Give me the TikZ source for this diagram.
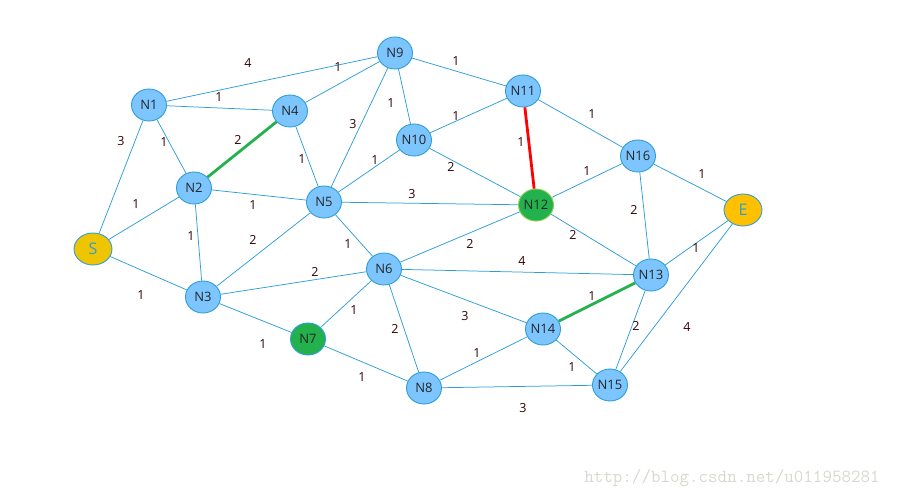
\documentclass[tikz,border=0pt]{standalone}
\usepackage{fontspec}
\setmainfont{Open Sans}
\usepackage{xcolor}
\usetikzlibrary{shapes.geometric}

\definecolor{nodeblue}{HTML}{7DC5FF}
\definecolor{edgeblue}{HTML}{2E9ED8}
\definecolor{pathgreen}{HTML}{22B14C}
\definecolor{startyellow}{HTML}{EFC400}
\definecolor{endyellow}{HTML}{FFC000}
\definecolor{lightgreen}{HTML}{8FD14F}
\definecolor{wmgray}{HTML}{D8D8D0}

\tikzset{
  vert/.style={ellipse, draw=edgeblue, fill=nodeblue, line width=0.9pt,
               minimum width=35pt, minimum height=32pt, inner sep=0pt,
               font=\fontsize{13}{15}\selectfont, text=black!85},
  goal/.style={vert, minimum width=38pt, minimum height=32pt,
               font=\fontsize{16}{18}\selectfont, text=edgeblue},
  wt/.style={font=\fontsize{12.5}{14}\selectfont, text=black!80!red},
  edge/.style={draw=edgeblue, line width=0.75pt},
  best/.style={line width=2.8pt}
}

\begin{document}
\begin{tikzpicture}[x=1pt, y=-1pt]
             \useasboundingbox (0,0) rectangle (897,498);

             % vertices
             \node[vert] (N1) at (149,105) {N1};
             \node[vert] (N2) at (194,188) {N2};
             \node[vert] (N3) at (203,297) {N3};
             \node[vert] (N4) at (290,111) {N4};
             \node[vert] (N5) at (324,202) {N5};
             \node[vert] (N6) at (384,269) {N6};
             \node[vert, fill=pathgreen] (N7) at (308,339) {N7};
             \node[vert] (N8) at (424,388) {N8};
             \node[vert] (N9) at (395,53) {N9};
             \node[vert] (N10) at (414,140) {N10};
             \node[vert] (N11) at (523,91) {N11};
             \node[vert, fill=pathgreen, draw=lightgreen] (N12) at (536,205) {N12};
             \node[vert] (N13) at (651,275) {N13};
             \node[vert] (N14) at (543,329) {N14};
             \node[vert] (N15) at (610,385) {N15};
             \node[vert] (N16) at (638,156) {N16};
             \node[goal, fill=startyellow] (S) at (93,249) {S};
             \node[goal, fill=endyellow] (E) at (743,210) {E};

             % edges with weights
             \draw[edge] (N1) -- (N9) node[wt] at (248,63) {4};
             \draw[edge] (N1) -- (N4) node[wt] at (219,97) {1};
             \draw[edge] (N1) -- (N2) node[wt] at (164,142) {1};
             \draw[edge] (N1) -- (S) node[wt] at (121,141) {3};
             \draw[edge] (N4) -- (N9) node[wt] at (338,67) {1};
             \draw[edge] (N4) -- (N5) node[wt] at (302,159) {1};
             \draw[edge] (N9) -- (N5) node[wt] at (353,124) {3};
             \draw[edge] (N9) -- (N10) node[wt] at (391,103) {1};
             \draw[edge] (N9) -- (N11) node[wt] at (456,61) {1};
             \draw[edge] (N10) -- (N11) node[wt] at (456,116) {1};
             \draw[edge] (N10) -- (N5) node[wt] at (375,160) {1};
             \draw[edge] (N10) -- (N12) node[wt] at (451,167) {2};
             \draw[edge] (N11) -- (N16) node[wt] at (592,114) {1};
             \draw[edge] (N16) -- (N12) node[wt] at (587,171) {1};
             \draw[edge] (N16) -- (E) node[wt] at (702,174) {1};
             \draw[edge] (N16) -- (N13) node[wt] at (634,210) {2};
             \draw[edge] (N12) -- (N5) node[wt] at (412,194) {3};
             \draw[edge] (N12) -- (N6) node[wt] at (470,244) {2};
             \draw[edge] (N12) -- (N13) node[wt] at (573,235) {2};
             \draw[edge] (N2) -- (N5) node[wt] at (253,205) {1};
             \draw[edge] (N2) -- (S) node[wt] at (136,204) {1};
             \draw[edge] (N2) -- (N3) node[wt] at (191,236) {1};
             \draw[edge] (S) -- (N3) node[wt] at (141,295) {1};
             \draw[edge] (N3) -- (N5) node[wt] at (253,240) {2};
             \draw[edge] (N3) -- (N6) node[wt] at (315,272) {2};
             \draw[edge] (N3) -- (N7) node[wt] at (263,344) {1};
             \draw[edge] (N5) -- (N6) node[wt] at (348,244) {1};
             \draw[edge] (N6) -- (N13) node[wt] at (522,261) {4};
             \draw[edge] (N6) -- (N7) node[wt] at (354,310) {1};
             \draw[edge] (N6) -- (N8) node[wt] at (395,329) {2};
             \draw[edge] (N6) -- (N14) node[wt] at (465,316) {3};
             \draw[edge] (N13) -- (E) node[wt] at (696,248) {1};
             \draw[edge] (N13) -- (N15) node[wt] at (636,326) {2};
             \draw[edge] (E) -- (N15) node[wt] at (687,327) {4};
             \draw[edge] (N14) -- (N8) node[wt] at (477,353) {1};
             \draw[edge] (N14) -- (N15) node[wt] at (572,367) {1};
             \draw[edge] (N7) -- (N8) node[wt] at (362,377) {1};
             \draw[edge] (N8) -- (N15) node[wt] at (523,408) {3};

             % chosen links
             \draw[best, pathgreen] (N2) -- (N4) node[wt] at (238,140) {2};
             \draw[best, pathgreen] (N14) -- (N13) node[wt] at (592,296) {1};
             \draw[best, red] (N11) -- (N12) node[wt] at (521,142) {1};

             % watermark
             \node[text=wmgray, font=\ttfamily\fontsize{18.5}{20}\selectfont] (wm) at (732,478) {http://blog.csdn.net/u011958281};
          \end{tikzpicture}
\end{document}
